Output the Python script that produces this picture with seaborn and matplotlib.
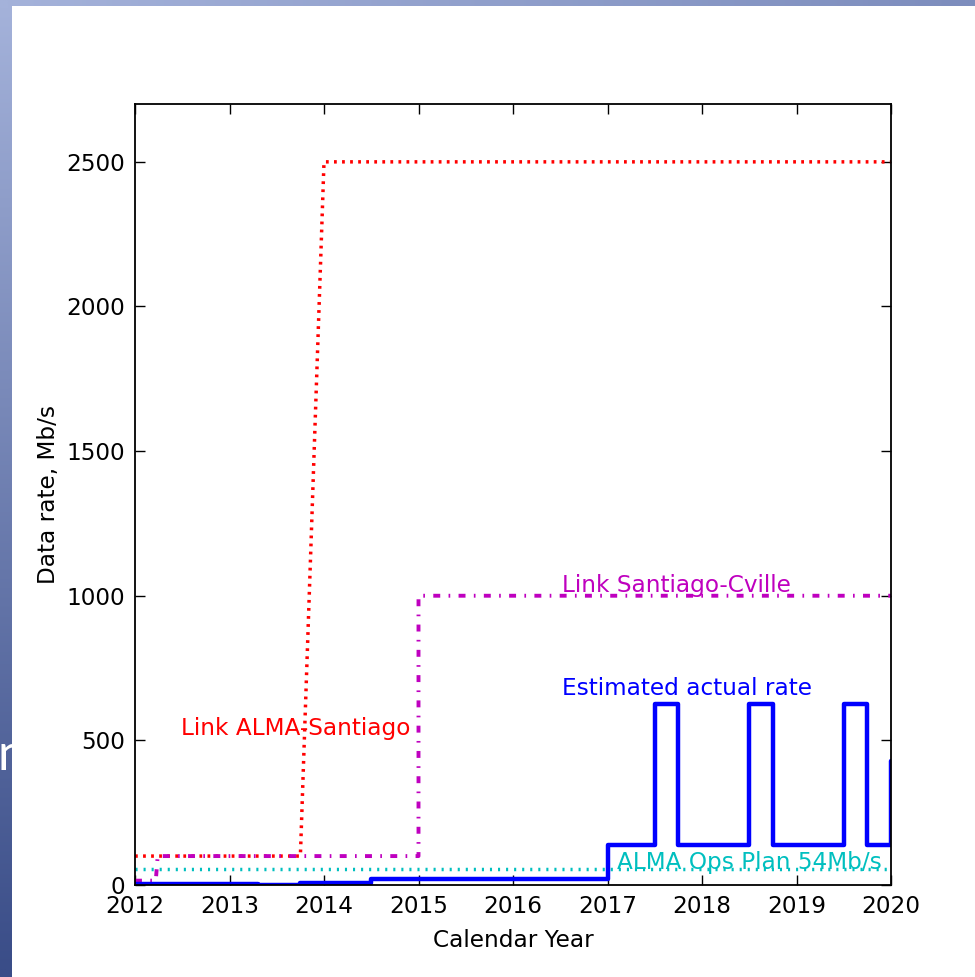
import numpy as np
import pandas as pd
import matplotlib
matplotlib.use("Agg")
import matplotlib.pyplot as plt
from matplotlib.patches import Rectangle
import seaborn as sns

# values
santiago_year = [2012.0, 2013.75, 2014.0, 2020.0]
santiago_rate = [100, 100, 2500, 2500]

cville_year = [2012.0, 2012.22, 2012.24, 2015.0, 2015.0, 2020.0]
cville_rate = [15, 15, 100, 100, 1000, 1000]

ops_year = [2012.0, 2020.0]
ops_rate = [54, 54]

# step changes of the estimated actual rate (steps-post)
actual_year = [2012.0, 2013.3, 2013.75, 2014.5, 2017.0, 2017.5, 2017.75,
               2018.5, 2018.75, 2019.5, 2019.75, 2020.0]
actual_rate = [5, 0, 8, 20, 140, 625, 140, 625, 140, 625, 140, 430]

year_ticks = [2012, 2013, 2014, 2015, 2016, 2017, 2018, 2019, 2020]
rate_ticks = [0, 500, 1000, 1500, 2000, 2500]

sns.set_theme(style="ticks")
plt.rcParams["font.family"] = ["DejaVu Sans"]
plt.rcParams["lines.scale_dashes"] = False

fig = plt.figure(figsize=(9.75, 9.77), dpi=100)

# slide background: blue gradient strip at left/top, white panel
bg = fig.add_axes([0, 0, 1, 1], zorder=-10)
ny, nx = 60, 60
top = np.linspace([164, 178, 218], [125, 141, 189], nx) / 255
bottom = np.array([58, 77, 136]) / 255
t = np.linspace(0, 1, ny)[:, None, None]
grad = top[None, :, :] * (1 - t) + bottom[None, None, :] * t
bg.imshow(grad, extent=[0, 1, 0, 1], aspect="auto", interpolation="bilinear", zorder=0)
# fragment of slide text peeking out at the left edge
bg.text(-0.003, 1 - 756 / 977, "n", color="white", fontsize=36, ha="left", va="center",
        family="Lato", transform=bg.transAxes, zorder=1)
bg.add_patch(Rectangle((12 / 975, 0), 1, 1 - 6 / 977, transform=bg.transAxes,
                       facecolor="white", edgecolor="none", zorder=2))
bg.set_xlim(0, 1)
bg.set_ylim(0, 1)
bg.axis("off")

ax = fig.add_axes([135 / 975, 1 - 885 / 977, 756 / 975, 781 / 977])

red = (1, 0, 0)
mag = (0.75, 0, 0.75)
cyan = (0, 0.75, 0.75)
blue = (0, 0, 1)

sns.lineplot(x=santiago_year, y=santiago_rate, ax=ax, color=red, lw=2.5,
             sort=False, estimator=None, linestyle=(0, (2, 3.8)))
sns.lineplot(x=cville_year, y=cville_rate, ax=ax, color=mag, lw=2.8,
             sort=False, estimator=None, linestyle=(0, (5, 6, 1.2, 6)))
sns.lineplot(x=ops_year, y=ops_rate, ax=ax, color=cyan, lw=2.5,
             sort=False, estimator=None, linestyle=(0, (1.5, 4.3)))
sns.lineplot(x=actual_year, y=actual_rate, ax=ax, color=blue, lw=3.2,
             sort=False, estimator=None, drawstyle="steps-post")

fs_txt = 16.7
ax.text(2012.49, 540, "Link ALMA-Santiago", color=red, fontsize=fs_txt, va="center")
ax.text(2016.52, 1035, "Link Santiago-Cville", color=mag, fontsize=fs_txt, va="center")
ax.text(2016.52, 680, "Estimated actual rate", color=blue, fontsize=fs_txt, va="center")
ax.text(2017.1, 78, "ALMA Ops Plan 54Mb/s", color=cyan, fontsize=fs_txt, va="center")

ax.set_xlim(2012, 2020)
ax.set_ylim(0, 2700)
ax.set_xticks(year_ticks)
ax.set_yticks(rate_ticks)
ax.tick_params(direction="in", length=7, width=1, labelsize=16.7, pad=7,
               top=True, right=True, colors="black")
ax.set_xlabel("Calendar Year", fontsize=16.7, color="black", labelpad=8)
ax.set_ylabel("Data rate, Mb/s", fontsize=16.7, color="black", labelpad=5)
for s in ax.spines.values():
    s.set_color("black")
    s.set_linewidth(1.3)
    s.set_visible(True)

fig.savefig("out.png", dpi=100)
